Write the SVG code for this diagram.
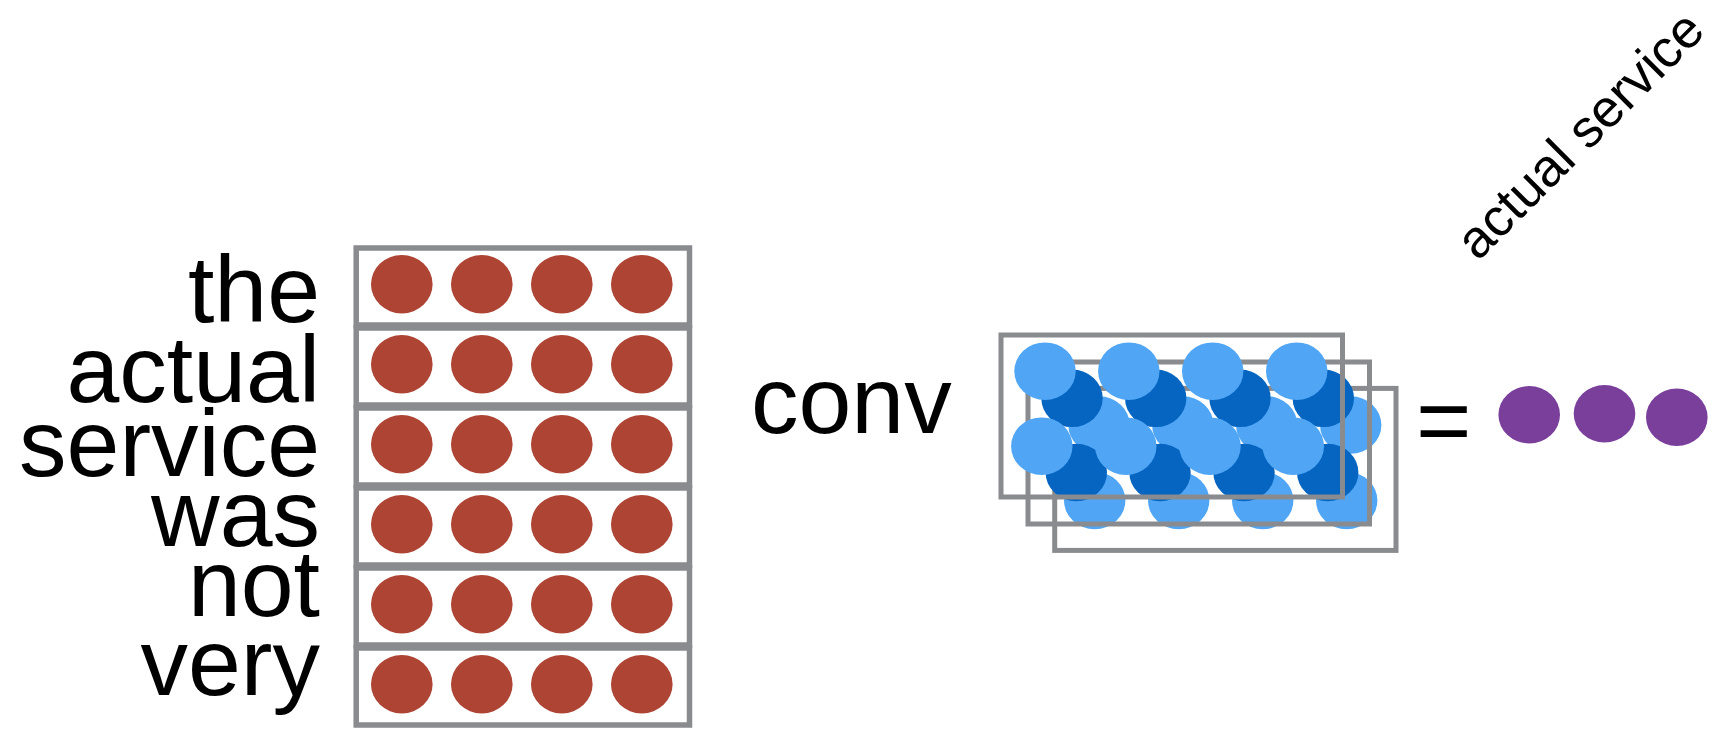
<svg xmlns="http://www.w3.org/2000/svg" width="1722" height="738" viewBox="0 0 1722 738">
<style>
.w{font-family:"Liberation Sans",Arial,sans-serif;font-size:95px;fill:#000}
.row{fill:#fff;stroke:#898b8e;stroke-width:5.5}
.fr{fill:none;stroke:#898b8e;stroke-width:5}
.red{fill:#ad4434}
.lb{fill:#50a6f5}
.db{fill:#0565c0}
.pu{fill:#7a3f9b}
</style>
<defs>
<g id="redrow">
<ellipse class="red" cx="401.8" cy="0" rx="30.8" ry="29.2"/>
<ellipse class="red" cx="481.8" cy="0" rx="30.8" ry="29.2"/>
<ellipse class="red" cx="561.8" cy="0" rx="30.8" ry="29.2"/>
<ellipse class="red" cx="641.8" cy="0" rx="30.8" ry="29.2"/>
</g>
</defs>
<rect width="1722" height="738" fill="#fff"/>
<g id="words">
<text class="w" x="320" y="322" text-anchor="end">the</text>
<text class="w" x="320" y="402" text-anchor="end">actual</text>
<text class="w" x="320" y="476" text-anchor="end">service</text>
<text class="w" x="320" y="546" text-anchor="end">was</text>
<text class="w" x="320" y="616" text-anchor="end">not</text>
<text class="w" x="320" y="695" text-anchor="end">very</text>
</g>
<g id="embeddings">
<rect class="row" x="356.2" y="248" width="333.3" height="77"/>
<rect class="row" x="356.2" y="328" width="333.3" height="77"/>
<rect class="row" x="356.2" y="408" width="333.3" height="77"/>
<rect class="row" x="356.2" y="488" width="333.3" height="77"/>
<rect class="row" x="356.2" y="568" width="333.3" height="77"/>
<rect class="row" x="356.2" y="648" width="333.3" height="77"/>
<use href="#redrow" y="284.2"/>
<use href="#redrow" y="364.2"/>
<use href="#redrow" y="444.2"/>
<use href="#redrow" y="524.2"/>
<use href="#redrow" y="604.2"/>
<use href="#redrow" y="684.2"/>
</g>
<g id="conv-label">
<text class="w" x="751" y="433">conv</text>
</g>
<g id="filters">
<g id="filter3">
<ellipse class="lb" cx="1099" cy="425" rx="30.7" ry="28.8"/>
<ellipse class="lb" cx="1182.8" cy="425" rx="30.7" ry="28.8"/>
<ellipse class="lb" cx="1266.7" cy="425" rx="30.7" ry="28.8"/>
<ellipse class="lb" cx="1350.7" cy="425" rx="30.7" ry="28.8"/>
<ellipse class="lb" cx="1094.7" cy="500.5" rx="30.7" ry="28.8"/>
<ellipse class="lb" cx="1178.7" cy="500.5" rx="30.7" ry="28.8"/>
<ellipse class="lb" cx="1262.7" cy="500.5" rx="30.7" ry="28.8"/>
<ellipse class="lb" cx="1346.7" cy="500.5" rx="30.7" ry="28.8"/>
<rect class="fr" x="1054.7" y="388.4" width="341.3" height="162"/>
</g>
<g id="filter2">
<ellipse class="db" cx="1072" cy="398.3" rx="30.7" ry="28.8"/>
<ellipse class="db" cx="1155.7" cy="398.3" rx="30.7" ry="28.8"/>
<ellipse class="db" cx="1240" cy="398.3" rx="30.7" ry="28.8"/>
<ellipse class="db" cx="1323.3" cy="398.3" rx="30.7" ry="28.8"/>
<ellipse class="db" cx="1076.3" cy="472.5" rx="30.7" ry="28.8"/>
<ellipse class="db" cx="1160" cy="472.5" rx="30.7" ry="28.8"/>
<ellipse class="db" cx="1244" cy="472.5" rx="30.7" ry="28.8"/>
<ellipse class="db" cx="1327.7" cy="472.5" rx="30.7" ry="28.8"/>
<rect class="fr" x="1028" y="362" width="341.5" height="162"/>
</g>
<g id="filter1">
<ellipse class="lb" cx="1045" cy="371.2" rx="30.7" ry="28.8"/>
<ellipse class="lb" cx="1128.8" cy="371.2" rx="30.7" ry="28.8"/>
<ellipse class="lb" cx="1212.7" cy="371.2" rx="30.7" ry="28.8"/>
<ellipse class="lb" cx="1296.7" cy="371.2" rx="30.7" ry="28.8"/>
<ellipse class="lb" cx="1041.8" cy="446.2" rx="30.7" ry="28.8"/>
<ellipse class="lb" cx="1125.8" cy="446.2" rx="30.7" ry="28.8"/>
<ellipse class="lb" cx="1210" cy="446.2" rx="30.7" ry="28.8"/>
<ellipse class="lb" cx="1293.3" cy="446.2" rx="30.7" ry="28.8"/>
<rect class="fr" x="1001" y="335" width="341.5" height="162"/>
</g>
</g>
<g id="equals">
<text class="w" x="1416" y="453">=</text>
</g>
<g id="output">
<ellipse class="pu" cx="1529.2" cy="414.7" rx="30.8" ry="28.7"/>
<ellipse class="pu" cx="1604.5" cy="413.8" rx="30.8" ry="28.7"/>
<ellipse class="pu" cx="1676.8" cy="417.2" rx="30.8" ry="28.7"/>
</g>
<g id="output-label">
<text x="1478" y="262" transform="rotate(-45 1478 262)" style="font-family:'Liberation Sans',Arial,sans-serif;font-size:53px;fill:#000">actual service</text>
</g>
</svg>
